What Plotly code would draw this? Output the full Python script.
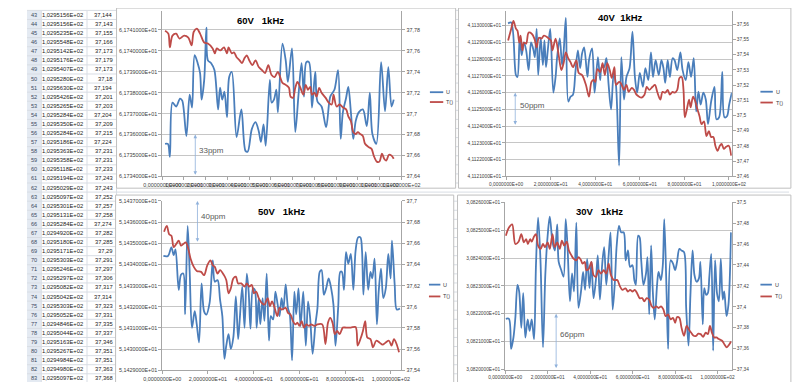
import plotly.graph_objects as go

W, H = 800, 382
FONT = "Liberation Sans"
BLUE = "#4A7EBB"
RED = "#BE4B48"
AX_LINE = "#a6a6a6"
GRID = "#c6c6c6"
TXT = "#404040"

# ---------------- spreadsheet column (rows 43..83) ----------------
sheet_rows = list(range(43, 84))
sheet_colA = ["1,0295156E+02", "1,0295156E+02", "1,0295235E+02", "1,0295548E+02", "1,0295142E+02",
              "1,0295176E+02", "1,0295407E+02", "1,0295280E+02", "1,0295630E+02", "1,0295426E+02",
              "1,0295265E+02", "1,0295284E+02", "1,0295350E+02", "1,0295284E+02", "1,0295186E+02",
              "1,0295363E+02", "1,0295358E+02", "1,0295118E+02", "1,0295194E+02", "1,0295029E+02",
              "1,0295097E+02", "1,0295301E+02", "1,0295131E+02", "1,0295284E+02", "1,0294920E+02",
              "1,0295180E+02", "1,0295171E+02", "1,0295303E+02", "1,0295246E+02", "1,0295297E+02",
              "1,0295082E+02", "1,0295042E+02", "1,0295303E+02", "1,0295052E+02", "1,0294846E+02",
              "1,0295044E+02", "1,0295163E+02", "1,0295267E+02", "1,0294984E+02", "1,0294980E+02",
              "1,0295097E+02"]
sheet_colB = ["37,144", "37,143", "37,155", "37,166", "37,173", "37,179", "37,173", "37,18", "37,194",
              "37,201", "37,203", "37,204", "37,209", "37,215", "37,224", "37,231", "37,231", "37,233",
              "37,243", "37,243", "37,252", "37,257", "37,258", "37,274", "37,282", "37,285", "37,29",
              "37,291", "37,297", "37,306", "37,317", "37,314", "37,323", "37,331", "37,335", "37,337",
              "37,346", "37,351", "37,351", "37,363", "37,368"]

# ---------------- 60 V ----------------
v60_ux = [1.3,2.6,3.5,4.7,6.4,8.2,9.2,11.1,12.6,13.7,14.9,16.3,17.4,18.1,19.3,20.3,21.0,22.5,24.0,25.7,
          26.6,27.6,28.6,29.8,30.8,32.0,34.2,36.4,38.3,39.3,41.2,42.9,44.4,45.4,46.6,47.6,49.5,50.3,51.4,52.5,
          53.2,55.3,56.8,57.8,59.7,61.2,62.7,64.1,65.2,66.3,67.5,68.9,70.4,71.4,73.3,75.4,77.3,79.2,80.9,82.1,
          83.1,84.6,85.6,86.8,87.9,89.0,90.4,92.3,94.1,95.5,96.7,98.5,100.7,102.5,104.0,105.5,106.5]
v60_u = [61.73555,61.73555,61.73494,61.73753,61.73734,61.73772,61.73762,61.73593,61.73791,61.73729,
         61.73979,61.73941,61.73894,61.73767,61.73861,61.74111,61.73955,61.73941,61.73908,61.7372,
         61.73824,61.73767,61.73805,61.73682,61.73875,61.73899,61.73588,61.7372,61.73522,61.73518,
         61.73626,61.73659,61.73616,61.73565,61.73649,61.73546,61.73861,61.73753,61.73767,61.73814,
         61.73706,61.74035,61.73955,61.73852,61.74012,61.73612,61.73791,61.73941,61.73781,61.73946,
         61.73946,61.73729,61.73899,61.73758,61.73734,61.73635,61.73781,61.73814,61.73908,61.73579,
         61.73706,61.73776,61.73828,61.73706,61.73579,61.73664,61.73706,61.7372,61.7364,61.738,
         61.73602,61.73555,61.73946,61.73711,61.73922,61.73734,61.73767]
v60_tx = [1.3,2.8,3.5,4.7,6.4,7.9,10.1,12.0,13.5,14.5,15.9,17.4,19.3,21.0,23.2,24.2,25.1,26.7,28.4,29.8,
          30.5,32.0,33.0,34.2,35.6,36.7,37.8,38.9,40.0,41.5,42.9,44.4,45.9,47.3,48.8,50.3,51.7,53.2,55.3,56.8,
          58.3,59.0,60.2,61.2,62.2,63.4,64.9,66.0,67.0,68.1,68.9,70.0,71.0,72.2,73.3,75.1,76.6,78.0,78.8,80.2,
          81.6,83.1,84.6,85.6,86.8,87.9,89.0,90.0,91.1,92.3,93.3,94.8,96.3,97.3,98.7,99.9,101.1,102.1,103.1,104.3,
          105.5,106.5]
v60_t = [37.7793,37.7765,37.7633,37.7746,37.7765,37.7718,37.7746,37.7727,37.7652,37.7783,
         37.7812,37.7765,37.768,37.767,37.7623,37.7576,37.7623,37.7604,37.7633,37.7576,
         37.7633,37.7576,37.7586,37.7539,37.751,37.7482,37.7529,37.7557,37.751,37.7463,
         37.751,37.7445,37.7416,37.7388,37.7463,37.7369,37.735,37.7398,37.7294,37.7275,
         37.7247,37.7162,37.7153,37.7247,37.7303,37.7256,37.7181,37.7275,37.7228,37.7256,
         37.7181,37.72,37.7162,37.7247,37.72,37.7153,37.7106,37.7087,37.7181,37.7068,
         37.7087,37.7059,37.704,37.6974,37.6927,37.6823,37.6805,37.6823,37.6805,37.6786,
         37.6711,37.6682,37.6663,37.6598,37.6541,37.6541,37.6616,37.6569,37.6551,37.6607,
         37.6598,37.6569]

# ---------------- 40 V ----------------
v40_ux = [0.9,2.3,4.4,5.1,6.1,7.0,8.0,9.0,10.1,11.2,12.3,12.9,13.7,14.4,15.5,16.5,17.2,17.9,18.7,19.8,
          21.2,22.2,22.9,24.1,25.1,25.8,26.8,27.9,28.9,30.0,31.1,32.2,33.2,34.1,35.0,36.5,37.2,38.6,39.7,41.2,
          42.2,42.9,44.0,45.0,46.0,47.1,48.3,49.3,50.7,51.7,52.9,54.0,55.4,56.7,57.8,58.8,60.0,61.4,62.5,63.8,
          65.0,65.9,67.1,68.5,69.7,70.6,71.4,72.5,73.5,74.7,75.6,76.8,78.2,79.2,80.6,81.8,83.0,84.2,85.3,86.3,
          87.3,88.5,89.6,90.6,92.0,93.5,94.4,95.6,97.0,98.0,99.1,100.1,101.3]
v40_u = [41.13014,41.13019,41.12706,41.12694,41.12929,41.12824,41.129,41.12853,41.12735,41.129,
         41.12853,41.12812,41.12982,41.12706,41.12929,41.12765,41.12912,41.12753,41.12853,41.12982,
         41.126,41.12694,41.12812,41.12924,41.12765,41.12841,41.13047,41.12547,41.12576,41.12588,
         41.12724,41.12853,41.12747,41.12835,41.12871,41.12694,41.12794,41.12865,41.126,41.12812,
         41.12676,41.12753,41.12753,41.12806,41.12647,41.125,41.12718,41.12647,41.12165,41.12812,
         41.12559,41.12694,41.12747,41.12965,41.12694,41.126,41.12718,41.12635,41.12747,41.12676,
         41.12841,41.12694,41.12794,41.12706,41.12794,41.12747,41.12659,41.12794,41.12694,41.12806,
         41.12794,41.12735,41.12841,41.12735,41.12676,41.12782,41.12694,41.12806,41.12488,41.12606,
         41.12529,41.126,41.12559,41.12412,41.12547,41.12635,41.12441,41.12453,41.12724,41.12453,
         41.12459,41.12529,41.126]
v40_tx = [0.9,2.3,3.3,4.4,5.1,5.9,6.5,7.3,8.0,9.0,10.1,11.5,12.7,13.7,14.7,15.8,17.0,18.7,20.1,20.8,
          22.2,23.6,24.8,25.8,26.8,27.9,28.9,30.0,31.5,32.6,34.1,35.8,37.2,38.3,39.3,40.0,41.0,42.2,43.3,44.3,
          45.4,46.5,47.4,48.6,49.3,50.7,51.4,52.9,54.0,55.0,56.4,57.4,58.5,59.7,60.7,62.1,63.1,64.2,65.7,66.8,
          67.8,69.2,70.2,71.4,72.5,73.5,74.7,75.6,76.8,77.8,78.8,79.6,80.2,81.1,82.1,82.8,83.9,84.9,85.9,86.8,
          87.7,88.8,89.9,91.0,92.0,93.0,93.9,94.9,95.9,96.7,97.7,98.7,99.9,101.0]
v40_t = [37.5493,37.5571,37.5622,37.5571,37.5558,37.548,37.5525,37.5428,37.548,37.5473,
         37.5545,37.5538,37.5506,37.5448,37.5512,37.5506,37.5525,37.5512,37.5493,37.5428,
         37.5506,37.5396,37.5299,37.5344,37.5415,37.5376,37.5351,37.5318,37.5363,37.5279,
         37.5266,37.5202,37.5124,37.5221,37.5234,37.5221,37.5305,37.5286,37.5344,37.5266,
         37.5344,37.5299,37.5247,37.5318,37.5202,37.5221,37.5215,37.5169,37.5202,37.5156,
         37.5182,37.5169,37.5137,37.5124,37.5118,37.5137,37.5189,37.5169,37.5189,37.5202,
         37.5156,37.5105,37.5156,37.515,37.5169,37.5137,37.5156,37.515,37.5169,37.5247,
         37.5253,37.5169,37.4988,37.504,37.5105,37.5053,37.5124,37.5092,37.504,37.4995,
         37.4943,37.4962,37.4865,37.4898,37.4859,37.4859,37.4801,37.4768,37.4801,37.4813,
         37.4781,37.4794,37.4801,37.4736]

# ---------------- 50 V ----------------
v50_ux = [0.5,2.5,4.0,5.0,5.8,7.2,8.2,9.2,10.0,11.1,12.0,13.0,14.2,15.1,16.1,17.2,18.3,19.3,20.7,22.1,
          23.0,24.2,25.3,26.3,27.2,28.0,29.0,30.0,31.1,32.2,33.2,33.9,35.0,36.0,37.0,37.8,38.6,39.7,40.5,41.3,
          42.2,42.9,43.9,44.7,45.7,46.7,47.5,48.5,49.5,50.5,51.3,52.2,53.0,54.0,55.0,55.8,56.8,57.8,58.6,59.6,
          60.5,61.7,62.8,63.8,64.7,65.8,67.0,67.9,68.9,69.7,70.7,71.7,72.8,73.9,74.9,75.8,77.0,77.9,78.6,79.5,
          80.4,81.4,82.5,83.6,84.6,85.7,86.7,87.4,88.0,89.0,90.1,91.1,91.9,92.9,93.9,94.7,95.7,96.7,97.8,98.9,
          99.9,100.5,101.7,102.6,104.0]
v50_u = [51.4344,51.4344,51.43481,51.43444,51.43471,51.4328,51.43351,51.43357,51.43164,51.43582,
         51.43365,51.43101,51.43179,51.43117,51.43032,51.4331,51.43178,51.43163,51.43217,51.43419,
         51.43318,51.43326,51.43233,51.43155,51.42954,51.43016,51.43071,51.43001,51.43055,51.43249,
         51.43047,51.4314,51.43295,51.43101,51.43357,51.43272,51.43097,51.43287,51.4328,51.43101,
         51.43241,51.43117,51.43241,51.43133,51.43357,51.4304,51.43156,51.4314,51.43272,51.4321,
         51.43156,51.43241,51.43187,51.43306,51.43194,51.43164,51.42947,51.43272,51.43164,51.43287,
         51.43109,51.43272,51.43016,51.43226,51.43148,51.42978,51.43117,51.43194,51.43365,51.43373,
         51.43257,51.43287,51.43334,51.43287,51.4321,51.43016,51.43202,51.43365,51.43365,51.4328,
         51.43458,51.43404,51.4345,51.4328,51.43466,51.43528,51.43528,51.43466,51.43257,51.43458,
         51.4328,51.43365,51.43334,51.43427,51.43117,51.43272,51.4338,51.43241,51.43287,51.4345,
         51.43334,51.43513,51.43303,51.43187,51.43192]
v50_tx = [0.8,2.0,3.0,4.0,5.0,6.1,7.2,8.2,9.2,10.3,11.4,12.4,13.8,15.1,17.0,18.3,19.7,21.1,22.1,23.0,
          24.2,25.3,27.0,28.0,29.0,30.0,31.1,32.2,33.2,34.6,36.0,37.0,38.0,39.2,40.1,41.1,42.2,43.6,44.7,46.1,
          47.1,48.0,49.2,50.3,51.3,52.2,54.0,55.0,56.1,57.2,58.2,59.2,60.0,61.0,62.0,63.0,64.2,65.1,66.5,67.9,
          70.0,71.4,72.5,73.5,74.5,75.5,76.5,77.6,79.0,80.4,82.5,84.6,85.5,86.7,87.8,88.8,89.7,91.1,92.2,93.6,
          95.0,96.4,97.8,99.2,100.3,101.4,102.5,103.6]
v50_t = [37.6709,37.6764,37.6686,37.6671,37.6563,37.6593,37.6625,37.6578,37.6593,37.6609,
         37.6547,37.6454,37.6377,37.6339,37.633,37.6299,37.6392,37.6439,37.6392,37.6377,
         37.6314,37.6346,37.6299,37.6253,37.6128,37.6175,37.6268,37.6284,37.6221,37.6221,
         37.6191,37.6221,37.6191,37.6206,37.6128,37.6144,37.6082,37.6035,37.602,37.6082,
         37.6005,37.6051,37.5989,37.5912,37.5989,37.5974,37.5989,37.5942,37.5927,37.5865,
         37.5834,37.5849,37.5819,37.5865,37.5803,37.5834,37.5819,37.5834,37.5819,37.5834,
         37.5834,37.5648,37.5849,37.5896,37.5849,37.5741,37.5772,37.5741,37.5803,37.5803,
         37.5803,37.5809,37.5633,37.5695,37.5772,37.5865,37.571,37.5695,37.5617,37.5679,
         37.5663,37.5642,37.5663,37.5679,37.5633,37.5695,37.5648,37.557]

# ---------------- 30 V ----------------
v30_ux = [0.3,1.8,2.8,3.9,4.8,5.8,6.6,7.6,8.5,9.5,10.6,11.5,12.5,13.6,14.5,15.5,16.6,17.8,18.9,20.0,
          21.0,22.3,23.4,24.5,25.2,26.4,27.5,28.5,29.4,30.5,31.5,32.4,33.5,34.5,35.7,36.7,37.6,38.6,39.7,40.6,
          41.6,42.7,43.6,44.6,45.7,46.6,47.6,48.7,49.6,50.6,51.6,52.5,53.6,54.6,55.8,56.7,57.8,58.8,59.9,60.8,
          61.5,62.6,63.3,64.0,65.1,66.3,67.0,67.8,68.7,69.5,70.4,71.5,72.2,73.3,74.2,74.9,76.0,76.7,77.9,79.0,
          80.0,80.9,82.0,83.0,84.2,85.2,86.3,87.2,88.2,89.1,90.1,91.2,91.9,93.0,93.7,94.6,95.4,96.1,97.0,97.9,
          98.8,99.7,100.6,101.5,102.4,103.1,104.2,105.1,106.3]
v30_u = [30.82182,30.82182,30.82074,30.82115,30.82186,30.82304,30.8228,30.8215,30.82274,30.82115,
         30.8218,30.82139,30.8218,30.82109,30.82374,30.82545,30.82397,30.8208,30.82339,30.8248,
         30.82548,30.82456,30.82427,30.82521,30.82386,30.82357,30.82333,30.82539,30.82433,30.82245,
         30.82345,30.8228,30.82527,30.82221,30.8228,30.8235,30.82286,30.82397,30.82292,30.82386,
         30.82256,30.82321,30.82409,30.82251,30.8238,30.82439,30.82304,30.82409,30.82492,30.82215,
         30.82309,30.82445,30.82515,30.82492,30.82492,30.82392,30.82427,30.82368,30.82374,30.82321,
         30.82304,30.8248,30.82474,30.82397,30.82304,30.82345,30.82403,30.82198,30.82445,30.8228,
         30.8218,30.82304,30.8235,30.82321,30.82374,30.82539,30.82268,30.82074,30.82392,30.8238,
         30.82357,30.82386,30.82433,30.82427,30.82421,30.82221,30.82086,30.82268,30.82427,30.82339,
         30.82315,30.82327,30.82386,30.82162,30.82292,30.82268,30.82274,30.82333,30.82415,30.82068,
         30.82392,30.82274,30.82245,30.82397,30.82251,30.8228,30.82192,30.82233,30.82492]
v30_tx = [0.3,1.8,3.3,4.8,6.3,7.6,8.8,9.9,10.7,11.8,12.5,13.6,14.5,15.5,16.7,17.8,18.8,20.0,21.0,22.3,
          23.3,24.5,25.7,26.7,27.8,29.0,30.0,31.2,32.2,33.5,34.6,35.7,36.4,37.5,38.2,39.4,40.6,41.6,42.7,43.9,
          45.1,46.4,47.6,48.7,49.8,51.1,52.1,52.8,54.1,55.2,56.6,57.8,58.8,60.0,61.0,62.1,63.3,64.5,65.5,66.6,
          67.8,69.0,70.0,71.1,72.2,73.4,74.5,75.5,76.7,77.9,79.0,80.0,80.9,82.0,83.0,84.2,85.4,86.4,87.5,88.7,
          89.9,90.9,92.0,93.2,94.4,95.4,96.4,97.3,98.4,99.4,100.6,102.1,103.3,104.3,105.4,106.3]
v30_t = [37.468,37.4758,37.4789,37.4601,37.4623,37.4695,37.4617,37.4648,37.4601,37.4648,
         37.4623,37.4673,37.4695,37.4586,37.4554,37.4601,37.457,37.4617,37.4554,37.4695,
         37.457,37.4617,37.4554,37.4633,37.4586,37.4623,37.4539,37.4492,37.446,37.4445,
         37.4476,37.4445,37.4413,37.4429,37.435,37.4365,37.4429,37.4303,37.4287,37.435,
         37.4318,37.435,37.4318,37.4413,37.4303,37.4256,37.4256,37.4256,37.4193,37.4162,
         37.4177,37.4146,37.4162,37.4146,37.4162,37.413,37.4083,37.4083,37.4052,37.4083,
         37.4068,37.4005,37.3989,37.4005,37.3989,37.4005,37.3974,37.3911,37.3927,37.388,
         37.3895,37.3848,37.3902,37.3895,37.3801,37.3723,37.3817,37.3786,37.3754,37.3723,
         37.3723,37.3744,37.3739,37.3713,37.3754,37.3739,37.3817,37.3754,37.3707,37.3707,
         37.3692,37.3676,37.3638,37.3613,37.3638,37.3669]

# ---------------- axis ticks ----------------
ticks60_x = [0, 10, 20, 30, 40, 50, 60, 70, 80, 90, 100, 110]
ticks60_l = [61.734, 61.735, 61.736, 61.737, 61.738, 61.739, 61.740, 61.741]
ticks60_r = [37.64, 37.66, 37.68, 37.70, 37.72, 37.74, 37.76, 37.78]
ticks40_x = [0, 20, 40, 60, 80, 100]
ticks40_l = [41.121, 41.122, 41.123, 41.124, 41.125, 41.126, 41.127, 41.128, 41.129, 41.130]
ticks40_r = [37.46, 37.47, 37.48, 37.49, 37.50, 37.51, 37.52, 37.53, 37.54, 37.55, 37.56]
ticks50_x = [0, 20, 40, 60, 80, 100]
ticks50_l = [51.429, 51.430, 51.431, 51.432, 51.433, 51.434, 51.435, 51.436, 51.437]
ticks50_r = [37.54, 37.56, 37.58, 37.60, 37.62, 37.64, 37.66, 37.68, 37.70]
ticks30_x = [0, 20, 40, 60, 80, 100]
ticks30_l = [30.820, 30.821, 30.822, 30.823, 30.824, 30.825, 30.826]
ticks30_r = [37.34, 37.36, 37.38, 37.40, 37.42, 37.44, 37.46, 37.48, 37.50]


def sci(v):
    return f"{v:.7E}".replace(".", ",")


def gen(v):
    s = f"{v:.2f}".rstrip("0").rstrip(".")
    return s.replace(".", ",")


def px(X):
    return X / W


def py(Y):
    return 1 - Y / H


charts = [
    dict(title="60V\u00a0\u00a0\u00a01kHz", tpos=(245, 10),
         xd=(142, 393), yd=(0, 168), xr=[0, 110], xt=ticks60_x,
         lr=[61.734, 61.734 + 168 / 21.25 * 0.001], lt=ticks60_l,
         rr=[37.64, 37.64 + 168 / 21.25 * 0.02], rt=ticks60_r,
         fs=5.4, ux=v60_ux, u=v60_u, tx=v60_tx, t=v60_t,
         arrow=(15.2, 61.734, 61.736), lab=(15.9, 61.73522, "33ppm"),
         leg=(423, 437, 82.5, 92.5)),
    dict(title="40V\u00a0\u00a01kHz", tpos=(623, 7),
         xd=(503, 740), yd=(0, 168), xr=[0, 101.3], xt=ticks40_x,
         lr=[41.121, 41.121 + 168 / 17000], lt=ticks40_l,
         rr=[37.46, 37.46 + 168 / 1545], rt=ticks40_r,
         fs=4.8, ux=v40_ux, u=v40_u, tx=v40_tx, t=v40_t,
         arrow=(4.1, 41.124, 41.126), lab=(5.2, 41.12524, "50ppm"),
         leg=(770, 783, 82, 93)),
    dict(title="50V\u00a0\u00a0\u00a01kHz", tpos=(267, 204),
         xd=(142, 393), yd=(193, 365), xr=[0, 104.6], xt=ticks50_x,
         lr=[51.429, 51.437], lt=ticks50_l,
         rr=[37.54, 37.70], rt=ticks50_r,
         fs=5.4, ux=v50_ux, u=v50_u, tx=v50_tx, t=v50_t,
         arrow=(15.4, 51.435, 51.437), lab=(16.2, 51.43626, "40ppm"),
         leg=(422, 434, 278, 290)),
    dict(title="30V\u00a0\u00a0\u00a01kHz", tpos=(601, 204),
         xd=(502, 740), yd=(194.3, 364.3), xr=[0, 106.7], xt=ticks30_x,
         lr=[30.820, 30.826], lt=ticks30_l,
         rr=[37.34, 37.50], rt=ticks30_r,
         fs=4.8, ux=v30_ux, u=v30_u, tx=v30_tx, t=v30_t,
         arrow=(24.0, 30.820, 30.822), lab=(24.7, 30.82125, "66ppm"),
         leg=(770, 782, 278, 290)),
]

fig = go.Figure()
layout = dict(width=W, height=H, margin=dict(l=0, r=0, t=0, b=0),
              paper_bgcolor="white", plot_bgcolor="rgba(0,0,0,0)",
              showlegend=False, font=dict(family=FONT, color=TXT))
shapes = []
annotations = []

# ---- spreadsheet background ----
ROW_H = 9.23


def row_y(i):
    return 4 + i * ROW_H


shapes.append(dict(type="rect", xref="paper", yref="paper", x0=0, x1=px(15), y0=0, y1=1,
                   fillcolor="#E4EAF2", line=dict(width=0), layer="below"))
for i in range(len(sheet_rows) + 1):
    yb = row_y(i) - ROW_H / 2
    shapes.append(dict(type="line", xref="paper", yref="paper", x0=0, x1=1,
                       y0=py(yb), y1=py(yb), line=dict(color="#D8DDE4", width=1), layer="below"))
for xv in (15, 63, 94):
    shapes.append(dict(type="line", xref="paper", yref="paper", x0=px(xv), x1=px(xv), y0=0, y1=1,
                       line=dict(color="#D8DDE4", width=1), layer="below"))
for i, (r, a, b) in enumerate(zip(sheet_rows, sheet_colA, sheet_colB)):
    yy = py(row_y(i))
    annotations.append(dict(xref="paper", yref="paper", x=px(7.5), y=yy, text=str(r), showarrow=False,
                            xanchor="center", yanchor="middle", font=dict(size=5.6, color="#3b4a5e")))
    annotations.append(dict(xref="paper", yref="paper", x=px(61), y=yy, text=a, showarrow=False,
                            xanchor="right", yanchor="middle", font=dict(size=5.8, color="#222222")))
    annotations.append(dict(xref="paper", yref="paper", x=px(92.5), y=yy, text=b, showarrow=False,
                            xanchor="right", yanchor="middle", font=dict(size=5.8, color="#222222")))

# ---- chart frames ----
frames = [(94, 450, -3, 180), (453, 802, -3, 180), (93, 448, 187, 385), (452, 802, 187, 385)]
for (x0, x1, y0, y1) in frames:
    shapes.append(dict(type="rect", xref="paper", yref="paper", x0=px(x0), x1=px(x1),
                       y0=py(y1), y1=py(y0), fillcolor="white",
                       line=dict(color="#BFBFBF", width=1), layer="below"))

for k, c in enumerate(charts, start=1):
    xn = "x" if k == 1 else f"x{k}"
    yl = 2 * k - 1
    yr = 2 * k
    yln = "y" if yl == 1 else f"y{yl}"
    yrn = f"y{yr}"
    xkey = "xaxis" if k == 1 else f"xaxis{k}"
    ylkey = "yaxis" if yl == 1 else f"yaxis{yl}"
    yrkey = f"yaxis{yr}"
    tf = dict(family=FONT, size=c["fs"], color=TXT)
    common = dict(zeroline=False, showline=True, linecolor=AX_LINE, linewidth=1, ticks="outside",
                  ticklen=3, tickcolor=AX_LINE, tickwidth=1, tickfont=tf, fixedrange=True,
                  tickmode="array")
    layout[xkey] = dict(common, domain=[px(c["xd"][0]), px(c["xd"][1])], range=c["xr"],
                        anchor=yln, showgrid=False, tickvals=c["xt"],
                        ticktext=[sci(v) for v in c["xt"]], tickangle=0)
    layout[ylkey] = dict(common, domain=[py(c["yd"][1]), py(c["yd"][0])], range=c["lr"],
                         anchor=xn, showgrid=True, gridcolor=GRID, gridwidth=1,
                         tickvals=c["lt"], ticktext=[sci(v) for v in c["lt"]])
    layout[yrkey] = dict(common, overlaying=yln, side="right", anchor=xn, range=c["rr"],
                         showgrid=False, tickvals=c["rt"], ticktext=[gen(v) for v in c["rt"]])

    fig.add_trace(go.Scatter(x=c["ux"], y=c["u"], xaxis=xn, yaxis=yln, mode="lines", name="U",
                             line=dict(color=BLUE, width=1.8, shape="spline", smoothing=0.9),
                             hoverinfo="skip"))
    fig.add_trace(go.Scatter(x=c["tx"], y=c["t"], xaxis=xn, yaxis=yrn, mode="lines", name="T()",
                             line=dict(color=RED, width=1.8, shape="spline", smoothing=0.9),
                             hoverinfo="skip"))

    # title
    annotations.append(dict(xref="paper", yref="paper", x=px(c["tpos"][0]), y=py(c["tpos"][1]),
                            text=f"<b>{c['title']}</b>", showarrow=False, xanchor="center",
                            yanchor="middle", font=dict(family=FONT, size=9.5, color="#000000")))
    # ppm arrow
    ax_x, a0, a1 = c["arrow"]
    annotations.append(dict(xref=xn, yref=yln, x=ax_x, y=a1, axref=xn, ayref=yln, ax=ax_x, ay=a0,
                            text="", showarrow=True, arrowhead=2, arrowsize=0.9, arrowwidth=0.8,
                            arrowside="end+start", arrowcolor="#8FB1DB", standoff=0, startstandoff=0))
    lx, ly, lt = c["lab"]
    annotations.append(dict(xref=xn, yref=yln, x=lx, y=ly, text=lt, showarrow=False,
                            xanchor="left", yanchor="middle", font=dict(size=8, color="#595959")))
    # legend
    l0, l1, yu, yt = c["leg"]
    shapes.append(dict(type="line", xref="paper", yref="paper", x0=px(l0), x1=px(l1),
                       y0=py(yu), y1=py(yu), line=dict(color=BLUE, width=1.8)))
    shapes.append(dict(type="line", xref="paper", yref="paper", x0=px(l0), x1=px(l1),
                       y0=py(yt), y1=py(yt), line=dict(color=RED, width=1.8)))
    annotations.append(dict(xref="paper", yref="paper", x=px(l1 + 1), y=py(yu), text="U",
                            showarrow=False, xanchor="left", yanchor="middle",
                            font=dict(size=5.5, color=TXT)))
    annotations.append(dict(xref="paper", yref="paper", x=px(l1 + 1), y=py(yt), text="T()",
                            showarrow=False, xanchor="left", yanchor="middle",
                            font=dict(size=5.5, color=TXT)))

layout["shapes"] = shapes
layout["annotations"] = annotations
fig.update_layout(**layout)
fig.write_html("out.html")
